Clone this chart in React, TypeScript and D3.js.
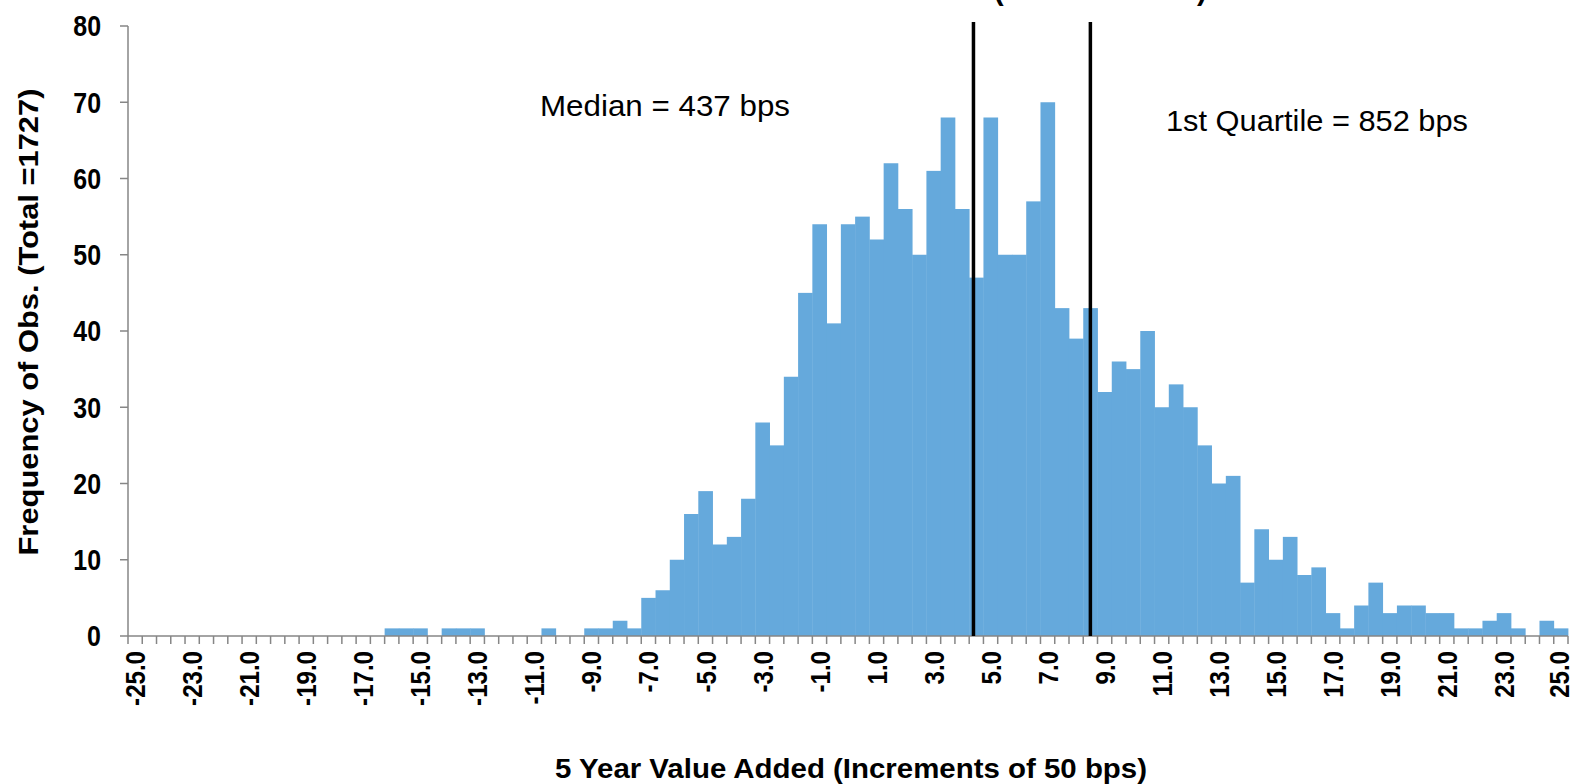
import React from "react";
import * as d3 from "d3";

// Category values (bin centres, increments of 0.5 = 50 bps)
const categories: number[] = d3.range(0, 101).map((i) => -25 + i * 0.5);

// Frequency of observations per bin, from -25.0 to 25.0
const counts: number[] = [
  0, 0, 0, 0, 0, 0, 0, 0, 0, 0, 0, 0, 0, 0, 0, 0, 0, 0,
  1, 1, 1, 0, 1, 1, 1, 0, 0, 0, 0, 1, 0, 0, 1, 1, 2, 1,
  5, 6, 10, 16, 19, 12, 13, 18, 28, 25, 34, 45, 54, 41, 54, 55, 52, 62, 56, 50,
  61, 68, 56, 47, 68, 50, 50, 57, 70,
  43, 39, 43, 32, 36, 35, 40, 30, 33, 30, 25, 20, 21, 7, 14, 10, 13, 8, 9, 3,
  1, 4, 7, 3, 4, 4, 3, 3, 1, 1, 2, 3, 1, 0, 2, 1,
];

const xTickLabels: number[] = [
  -25, -23, -21, -19, -17, -15, -13, -11, -9, -7, -5, -3, -1,
  1, 3, 5, 7, 9, 11, 13, 15, 17, 19, 21, 23, 25,
];
const yTicks: number[] = [0, 10, 20, 30, 40, 50, 60, 70, 80];

const markers = [
  { value: 4.4, label: "Median = 437 bps" },
  { value: 8.5, label: "1st Quartile = 852 bps" },
];

const title = "5 Year Value Added - Distribution of Results (Gross of Fees)";
const xTitle = "5 Year Value Added (Increments of 50 bps)";
const yTitle = "Frequency of Obs. (Total =1727)";

export default function App() {
  const W = 1573;
  const H = 784;
  const left = 128;
  const right = 1568;
  const top = 26;
  const bottom = 636;

  const x = d3.scaleLinear().domain([-25.25, 25.25]).range([left, right]);
  const y = d3.scaleLinear().domain([0, 80]).range([bottom, top]);
  const step = x(0.5) - x(0);
  const axisColor = "#868686";
  const barColor = "#65A9DC";
  const font = "'Liberation Sans', Arial, sans-serif";

  const boundaries = d3.range(0, categories.length + 1).map((i) => -25.25 + i * 0.5);

  return (
    <svg
      width={W}
      height={H}
      style={{ position: "absolute", left: 0, top: 0, background: "#fff" }}
      fontFamily={font}
    >
      {/* title (cut off at top) */}
      <text x={795} y={0} textAnchor="middle" fontSize={29} fontWeight="bold" fill="#000">
        {title}
      </text>

      {/* bars */}
      {categories.map((c, i) =>
        counts[i] > 0 ? (
          <rect
            key={i}
            x={x(c - 0.25)}
            width={step + 0.4}
            y={y(counts[i])}
            height={y(0) - y(counts[i])}
            fill={barColor}
          />
        ) : null
      )}

      {/* y axis */}
      <line x1={left} x2={left} y1={y(80)} y2={y(0)} stroke={axisColor} strokeWidth={1.5} />
      {yTicks.map((t) => (
        <g key={t}>
          <line x1={left - 8} x2={left} y1={y(t)} y2={y(t)} stroke={axisColor} strokeWidth={1.5} />
          <text
            transform={`translate(101,${y(t)}) scale(0.86,1)`}
            dy="0.36em"
            textAnchor="end"
            fontSize={29}
            fontWeight="bold"
            fill="#000"
          >
            {t}
          </text>
        </g>
      ))}

      {/* x axis */}
      <line x1={left} x2={right} y1={y(0)} y2={y(0)} stroke={axisColor} strokeWidth={1.5} />
      {boundaries.map((b, i) => (
        <line key={i} x1={x(b)} x2={x(b)} y1={y(0)} y2={y(0) + 8} stroke={axisColor} strokeWidth={1.5} />
      ))}
      {xTickLabels.map((v) => (
        <text
          key={v}
          transform={`translate(${Math.min(x(v), 1559)},651) rotate(-90) scale(0.86,1)`}
          dy="0.36em"
          textAnchor="end"
          fontSize={28}
          fontWeight="bold"
          fill="#000"
        >
          {v.toFixed(1)}
        </text>
      ))}

      {/* marker lines */}
      {markers.map((m) => (
        <line
          key={m.label}
          x1={x(m.value)}
          x2={x(m.value)}
          y1={22}
          y2={y(0)}
          stroke="#000"
          strokeWidth={3.5}
        />
      ))}
      <text x={540} y={116} fontSize={29} fill="#000" textLength={250} lengthAdjust="spacingAndGlyphs">
        {markers[0].label}
      </text>
      <text x={1166} y={131} fontSize={29} fill="#000" textLength={302} lengthAdjust="spacingAndGlyphs">
        {markers[1].label}
      </text>

      {/* axis titles */}
      <text
        x={851}
        y={778}
        textAnchor="middle"
        fontSize={28}
        fontWeight="bold"
        fill="#000"
        textLength={592}
        lengthAdjust="spacingAndGlyphs"
      >
        {xTitle}
      </text>
      <text
        transform="translate(38,322) rotate(-90)"
        textAnchor="middle"
        fontSize={28}
        fontWeight="bold"
        fill="#000"
        textLength={467}
        lengthAdjust="spacingAndGlyphs"
      >
        {yTitle}
      </text>
    </svg>
  );
}
